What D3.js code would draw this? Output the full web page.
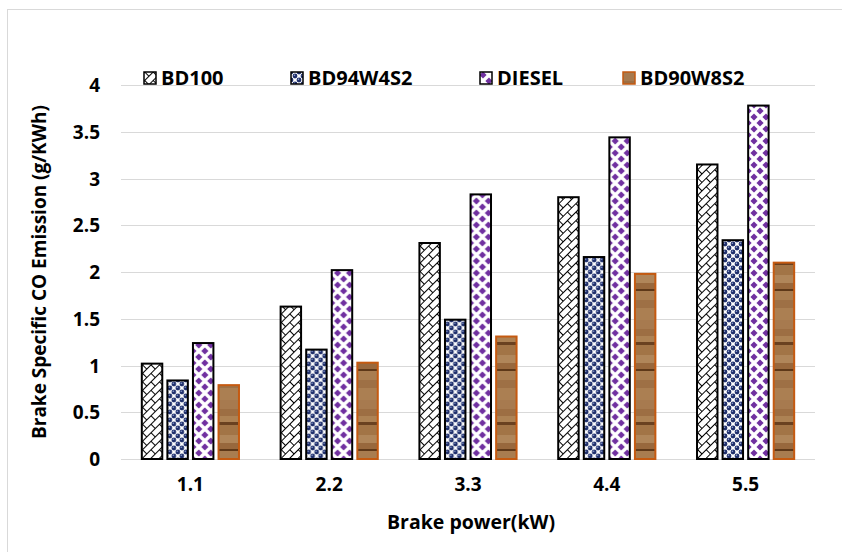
<!DOCTYPE html>
<html>
<head>
<meta charset="utf-8">
<script src="https://d3js.org/d3.v7.min.js"></script>
<style>
  body { margin: 0; background: #fff; }
  text { font-family: "Open Sans", "Noto Sans", sans-serif; font-weight: bold; fill: #000; }
</style>
</head>
<body>
<script>
// chart data
const categories = ["1.1", "2.2", "3.3", "4.4", "5.5"];
const seriesNames = ["BD100", "BD94W4S2", "DIESEL", "BD90W8S2"];
const bd100 = [1.02, 1.63, 2.31, 2.80, 3.15];
const bd94w4s2 = [0.84, 1.17, 1.49, 2.16, 2.34];
const diesel = [1.24, 2.02, 2.83, 3.44, 3.78];
const bd90w8s2 = [0.79, 1.03, 1.31, 1.98, 2.10];
const yTicks = [0, 0.5, 1, 1.5, 2, 2.5, 3, 3.5, 4];

const values = [bd100, bd94w4s2, diesel, bd90w8s2];

const width = 842, height = 552;
const svg = d3.select("body").append("svg").attr("width", width).attr("height", height);

// outer frame
svg.append("rect")
  .attr("x", 7.5).attr("y", 9.5).attr("width", 840).attr("height", 560)
  .attr("fill", "none").attr("stroke", "#d9d9d9");

// patterns
const defs = svg.append("defs");

// diagonal brick for BD100
let p1 = defs.append("pattern").attr("id", "pBrick")
  .attr("patternUnits", "userSpaceOnUse").attr("width", 12).attr("height", 12)
  .attr("patternTransform", "rotate(-45)");
p1.append("rect").attr("width", 12).attr("height", 12).attr("fill", "#fff");
p1.append("path")
  .attr("d", "M0,0.5H12M0,6.5H12M0.5,0V6.5M6.5,6.5V12")
  .attr("stroke", "#000").attr("stroke-width", 1).attr("fill", "none");

// dots for BD94W4S2
const navy = "#1f2f6b";
let p2 = defs.append("pattern").attr("id", "pDots")
  .attr("patternUnits", "userSpaceOnUse").attr("width", 8).attr("height", 8);
p2.append("rect").attr("width", 8).attr("height", 8).attr("fill", "#fff");
[[4, 4], [0, 0], [8, 0], [0, 8], [8, 8]].forEach(c => {
  p2.append("circle").attr("cx", c[0]).attr("cy", c[1]).attr("r", 2.4).attr("fill", navy);
});
[[3.4, 3.2], [-0.6, -0.8], [7.4, -0.8], [-0.6, 7.2], [7.4, 7.2]].forEach(c => {
  p2.append("circle").attr("cx", c[0]).attr("cy", c[1]).attr("r", 0.8).attr("fill", "#8fa0d0");
});

// diamonds for DIESEL
let p3 = defs.append("pattern").attr("id", "pDiamond")
  .attr("patternUnits", "userSpaceOnUse").attr("width", 12).attr("height", 12);
p3.append("rect").attr("width", 12).attr("height", 12).attr("fill", "#fff");
p3.append("path")
  .attr("d", "M3,-0.6L6.6,3L3,6.6L-0.6,3Z M9,5.4L12.6,9L9,12.6L5.4,9Z M9,-6.6L12.6,-3L9,0.6L5.4,-3Z M15,-0.6L18.6,3L15,6.6L11.4,3Z M3,11.4L6.6,15L3,18.6L-0.6,15Z M-3,5.4L0.6,9L-3,12.6L-6.6,9Z")
  .attr("fill", "#7030a0");

// wood for BD90W8S2
let p4 = defs.append("pattern").attr("id", "pWood")
  .attr("patternUnits", "userSpaceOnUse").attr("width", 24).attr("height", 80);
const woodBands = [
  [0, 9, "#a77a4f"], [9, 7, "#9d6e43"], [16, 6, "#ad8254"], [22, 3, "#6a4120"],
  [25, 10, "#a27446"], [35, 8, "#b0865a"], [43, 6, "#98683d"], [49, 2, "#5e3818"],
  [51, 9, "#a97d50"], [60, 8, "#9e7045"], [68, 12, "#ab7f52"]
];
woodBands.forEach(b => {
  p4.append("rect").attr("x", 0).attr("y", b[0]).attr("width", 24).attr("height", b[1]).attr("fill", b[2]);
});

const fills = ["url(#pBrick)", "url(#pDots)", "url(#pDiamond)", "url(#pWood)"];
const strokes = ["#000", "#000", "#000", "#c55a11"];

// scales
const x0 = d3.scaleBand().domain(categories).range([121, 815]).paddingInner(0.3).paddingOuter(0.15);
const x1 = d3.scaleBand().domain(seriesNames).range([0, x0.bandwidth()]).paddingInner(0.2);
const y = d3.scaleLinear().domain([0, 4]).range([459, 85]);

// gridlines
svg.append("g").selectAll("line").data(yTicks).enter().append("line")
  .attr("x1", 121).attr("x2", 815)
  .attr("y1", d => Math.round(y(d)) + 0.5).attr("y2", d => Math.round(y(d)) + 0.5)
  .attr("stroke", "#d9d9d9").attr("stroke-width", 1);

// y axis labels
const yAxis = d3.axisLeft(y).tickValues(yTicks).tickSize(0).tickPadding(0).tickFormat(d => d);
const gy = svg.append("g").attr("transform", "translate(100,0)").call(yAxis);
gy.select(".domain").remove();
gy.attr("font-size", null).attr("font-family", null);
gy.selectAll("text").style("font-size", "19px").attr("dy", "0.35em");

// x axis labels
const xAxis = d3.axisBottom(x0).tickSize(0).tickPadding(0);
const gx = svg.append("g").attr("transform", "translate(0,477)").call(xAxis);
gx.select(".domain").remove();
gx.attr("font-size", null).attr("font-family", null);
gx.selectAll("text").style("font-size", "19px").attr("dy", "0.71em");

// bars
const groups = svg.append("g").selectAll("g").data(categories).enter().append("g")
  .attr("transform", d => "translate(" + x0(d) + ",0)");
groups.selectAll("rect")
  .data((c, ci) => seriesNames.map((s, si) => ({ s: s, si: si, v: values[si][ci] })))
  .enter().append("rect")
  .attr("x", d => x1(d.s))
  .attr("y", d => y(d.v))
  .attr("width", x1.bandwidth())
  .attr("height", d => y(0) - y(d.v))
  .attr("fill", d => fills[d.si])
  .attr("stroke", d => strokes[d.si])
  .attr("stroke-width", 2);

// legend
const legendX = [144, 291, 480, 623];
const legend = svg.append("g").selectAll("g").data(seriesNames).enter().append("g")
  .attr("transform", (d, i) => "translate(" + legendX[i] + ",72)");
legend.append("rect")
  .attr("x", 0).attr("y", 0).attr("width", 12).attr("height", 12)
  .attr("fill", (d, i) => fills[i]).attr("stroke", (d, i) => strokes[i]).attr("stroke-width", 1.5);
legend.append("text")
  .attr("x", 17).attr("y", 6).attr("dy", "0.35em")
  .style("font-size", "20px")
  .text(d => d);

// axis titles
svg.append("text")
  .attr("transform", "translate(46,272) rotate(-90)")
  .style("text-anchor", "middle")
  .style("font-size", "19px")
  .text("Brake Specific CO Emission (g/KWh)");

svg.append("text")
  .attr("x", 471).attr("y", 529)
  .style("text-anchor", "middle")
  .style("font-size", "19.5px")
  .text("Brake power(kW)");
</script>
</body>
</html>
